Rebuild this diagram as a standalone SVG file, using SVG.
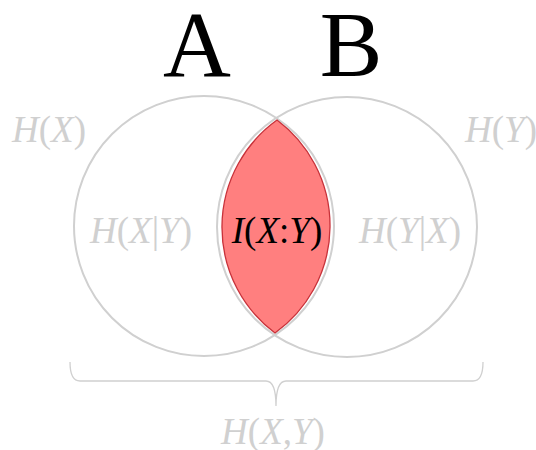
<svg xmlns="http://www.w3.org/2000/svg" width="536" height="450" viewBox="0 0 536 450">
<style>
.circ{fill:none;stroke:#d0d0d0;stroke-width:2}
.lbl{font-family:"Liberation Serif","Times New Roman",serif;font-size:37px;fill:#d0d0d0}
.big{font-family:"Liberation Serif","Times New Roman",serif;font-size:94px;fill:#000}
.i{font-style:italic}
</style>
<rect width="536" height="450" fill="#fff"/>
<g id="setA">
<circle class="circ" cx="204" cy="226" r="130"/>
<text class="big" x="197" y="76" text-anchor="middle">A</text>
<text class="lbl" x="12" y="142"><tspan class="i">H</tspan>(<tspan class="i">X</tspan>)</text>
</g>
<g id="setB">
<circle class="circ" cx="347" cy="227" r="130"/>
<text class="big" x="351" y="76" text-anchor="middle">B</text>
<text class="lbl" x="465" y="142"><tspan class="i">H</tspan>(<tspan class="i">Y</tspan>)</text>
</g>
<g id="intersection">
<path d="M277,120 A132,132 0 0 1 275,333 A132,132 0 0 1 277,120 Z" fill="#ff7f7f" stroke="#c8323a" stroke-width="1.3"/>
<text class="lbl" x="277" y="243" text-anchor="middle" fill="#000" style="fill:#000"><tspan class="i">I</tspan>(<tspan class="i">X</tspan>:<tspan class="i">Y</tspan>)</text>
</g>
<g id="condA">
<text class="lbl" x="141" y="243" text-anchor="middle"><tspan class="i">H</tspan>(<tspan class="i">X</tspan>|<tspan class="i">Y</tspan>)</text>
</g>
<g id="condB">
<text class="lbl" x="410" y="243" text-anchor="middle"><tspan class="i">H</tspan>(<tspan class="i">Y</tspan>|<tspan class="i">X</tspan>)</text>
</g>
<g id="connectors">
<path d="M70,362 Q70,381 80,381 H266 Q276,381 276,406 Q276,381 286,381 H473 Q483,381 483,362" fill="none" stroke="#d0d0d0" stroke-width="1.3"/>
</g>
<g id="joint">
<text class="lbl" x="273" y="444" text-anchor="middle"><tspan class="i">H</tspan>(<tspan class="i">X</tspan>,<tspan class="i">Y</tspan>)</text>
</g>
</svg>
